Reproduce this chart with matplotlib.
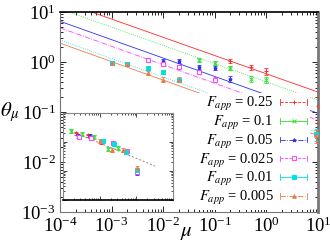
import numpy as np
import matplotlib
matplotlib.use("Agg")
import matplotlib.pyplot as plt
from matplotlib.lines import Line2D
from matplotlib.legend_handler import HandlerBase
from matplotlib.ticker import LogLocator, NullFormatter

plt.rcParams['font.family'] = 'serif'
plt.rcParams['font.serif'] = ['Liberation Serif', 'DejaVu Serif']
plt.rcParams['mathtext.fontset'] = 'stix'

# ---------------- data ----------------
labels = ["0.25", "0.1", "0.05", "0.025", "0.01", "0.005"]
colors = ["#ff2828", "#30e030", "#3030f0", "#ff40ff", "#00e0e0", "#f07848"]
markers = ["+", "x", "*", "s", "s", "^"]
filled = [True, True, True, False, True, True]
key_ls = ["--", "-", "-.", "--", "-", "-."]
fit_ls = ["-", ":", "-", "-.", ":", "-"]

x_red = [0.2, 0.5, 1.0, 10.0]
y_red = [1.05, 0.78, 0.66, 0.13]
e_red = [0.10, 0.10, 0.10, 0.07]

x_green = [0.05, 0.1, 0.2, 0.5, 1.0]
y_green = [1.1, 0.95, 0.76, 0.46, 0.44]
e_green = [0.08, 0.08, 0.08, 0.06, 0.06]

x_blue = [0.01, 0.02, 0.05, 0.1, 0.2, 0.5]
y_blue = [1.05, 1.05, 0.79, 0.76, 0.46, 0.14]
e_blue = [0.08, 0.08, 0.08, 0.08, 0.06, 0.04]

x_mag = [0.005, 0.01, 0.02, 0.05, 0.1, 0.2]
y_mag = [1.1, 0.91, 0.79, 0.63, 0.44, 0.14]
e_mag = [0.08, 0.08, 0.07, 0.05, 0.05, 0.05]

x_cyan = [0.001, 0.002, 0.005, 0.01, 0.02, 0.05, 9.3]
y_cyan = [0.97, 0.91, 0.76, 0.63, 0.44, 0.14, 0.036]
e_cyan = [0.06, 0.06, 0.06, 0.05, 0.04, 0.05, 0.01]

x_or = [0.001, 0.002, 0.005, 0.01, 0.02, 0.05, 9.3]
y_or = [0.95, 0.91, 0.60, 0.44, 0.44, 0.14, 0.034]
e_or = [0.06, 0.06, 0.06, 0.05, 0.05, 0.05, 0.01]

# power-law fits: theta = amp * mu^(-expo)
fit_amp = [0.58, 0.40, 0.22, 0.16, 0.091, 0.079]
fit_expo = [0.365, 0.365, 0.368, 0.37, 0.37, 0.37]

# inset (collapsed data)
ix_red = [0.22, 0.48, 1.1, 10.5]
iy_red = [0.20, 0.17, 0.10, 0.010]
ix_green = [0.166, 0.33, 0.7, 1.7, 3.2]
iy_green = [0.24, 0.19, 0.15, 0.058, 0.062]
ix_blue = [0.26, 0.55, 10.5]
iy_blue = [0.16, 0.16, 0.0085]
ix_mag = [0.27, 0.58, 2.3, 5.6, 10.5]
iy_mag = [0.15, 0.14, 0.093, 0.049, 0.0093]
ix_cyan = [1.23, 2.45, 5.3, 10.5]
iy_cyan = [0.107, 0.085, 0.046, 0.0107]
ix_or = [1.0, 2.2, 4.3, 10.5]
iy_or = [0.107, 0.053, 0.053, 0.0126]
iline_x = [0.166, 32.0]
iline_y = [0.24, 0.0148]

xs = [x_red, x_green, x_blue, x_mag, x_cyan, x_or]
ys = [y_red, y_green, y_blue, y_mag, y_cyan, y_or]
es = [e_red, e_green, e_blue, e_mag, e_cyan, e_or]
ixs = [ix_red, ix_green, ix_blue, ix_mag, ix_cyan, ix_or]
iys = [iy_red, iy_green, iy_blue, iy_mag, iy_cyan, iy_or]

W, H = 330, 244
fig = plt.figure(figsize=(W / 100, H / 100), dpi=100)
ax = fig.add_axes([60 / W, 1 - 212 / H, 258 / W, 200 / H])

xline = np.logspace(-4, 1, 50)
for i in range(6):
    ax.plot(xline, fit_amp[i] * xline ** (-fit_expo[i]), color=colors[i],
            lw=0.6, ls=fit_ls[i], zorder=2)
    mfc = colors[i] if filled[i] else 'white'
    ax.errorbar(xs[i], ys[i], yerr=es[i], fmt='none', ecolor=colors[i],
                elinewidth=0.6, capsize=1.6, capthick=0.6, zorder=3)
    ax.plot(xs[i], ys[i], ls='none', marker=markers[i], ms=2.6, mew=0.7,
            color=colors[i], mfc=mfc, zorder=4)

ax.set_xscale('log')
ax.set_yscale('log')
ax.set_xlim(1e-4, 10)
ax.set_ylim(1e-3, 10)
for axis in (ax.xaxis, ax.yaxis):
    axis.set_major_locator(LogLocator(base=10, numticks=10))
    axis.set_minor_locator(LogLocator(base=10, subs=np.arange(2, 10), numticks=10))
    axis.set_minor_formatter(NullFormatter())
ax.tick_params(which='both', direction='in', top=True, right=True,
               labelsize=13.5, width=0.6, pad=3)
ax.tick_params(which='major', length=4.5)
ax.tick_params(which='minor', length=2.5)
for s in ['left', 'bottom', 'right']:
    ax.spines[s].set_color('#777777')
ax.spines['right'].set_linewidth(2.0)
ax.spines['top'].set_linewidth(1.2)

fig.text(10 / W, 1 - 112 / H, r'$\theta_\mu$', fontsize=15, ha='center', va='center')
fig.text(186 / W, 1 - 232 / H, r'$\mu$', fontsize=15, ha='center', va='center')


class Key:
    def __init__(self, color, ls, marker, mfc):
        self.color, self.ls, self.marker, self.mfc = color, ls, marker, mfc


class GPHandler(HandlerBase):
    def create_artists(self, legend, h, xdescent, ydescent, width, height, fontsize, trans):
        y = height / 2 - ydescent
        x0, x1 = -xdescent, -xdescent + width
        c = 2.0
        arts = [Line2D([x0, x1], [y, y], color=h.color, ls=h.ls, lw=0.6),
                Line2D([x0, x0], [y - c, y + c], color=h.color, lw=0.6),
                Line2D([x1, x1], [y - c, y + c], color=h.color, lw=0.6),
                Line2D([(x0 + x1) / 2], [y], marker=h.marker, ms=2.6, mew=0.7,
                       color=h.color, mfc=h.mfc, ls='none')]
        for a in arts:
            a.set_transform(trans)
        return arts


keys = [Key(colors[i], key_ls[i], markers[i], colors[i] if filled[i] else 'white')
        for i in range(6)]
leg = ax.legend(keys, [r'$F_{app}$ = ' + l for l in labels],
                handler_map={Key: GPHandler()}, loc='lower right',
                bbox_to_anchor=(0.969, 0.01), markerfirst=False, fontsize=10.5,
                handlelength=1.85, handletextpad=0.45, labelspacing=0.05,
                borderpad=0.2, borderaxespad=0.0, frameon=True, fancybox=False)
leg.get_frame().set_edgecolor('none')
leg.get_frame().set_facecolor('white')
leg.get_frame().set_alpha(1.0)
leg.set_zorder(5)

# inset
ins = fig.add_axes([63 / W, 1 - 200 / H, 110 / W, 87 / H])
ins.set_zorder(6)
ins.plot(iline_x, iline_y, color='#888888', lw=0.7, ls=(0, (2, 2)), zorder=2)
for i in range(6):
    mfc = colors[i] if filled[i] else 'white'
    ins.errorbar(ixs[i], iys[i], yerr=[0.15 * np.array(iys[i]), 0.15 * np.array(iys[i])],
                 fmt='none', ecolor=colors[i], elinewidth=0.6, capsize=1.2,
                 capthick=0.6, zorder=3)
    ins.plot(ixs[i], iys[i], ls='none', marker=markers[i], ms=2.6, mew=0.7,
             color=colors[i], mfc=mfc, zorder=4)
ins.set_xscale('log')
ins.set_yscale('log')
ins.set_xlim(0.1, 100)
ins.set_ylim(1e-3, 1)
for axis in (ins.xaxis, ins.yaxis):
    axis.set_major_locator(LogLocator(base=10, numticks=10))
    axis.set_minor_locator(LogLocator(base=10, subs=np.arange(2, 10), numticks=10))
    axis.set_major_formatter(NullFormatter())
    axis.set_minor_formatter(NullFormatter())
ins.tick_params(which='both', direction='in', top=True, right=True, width=0.5)
ins.tick_params(which='major', length=3)
ins.tick_params(which='minor', length=1.6)
for s in ['left', 'top', 'right']:
    ins.spines[s].set_color('#888888')
    ins.spines[s].set_linewidth(0.8)
ins.spines['bottom'].set_linewidth(1.2)

fig.savefig('out.png', dpi=100)
